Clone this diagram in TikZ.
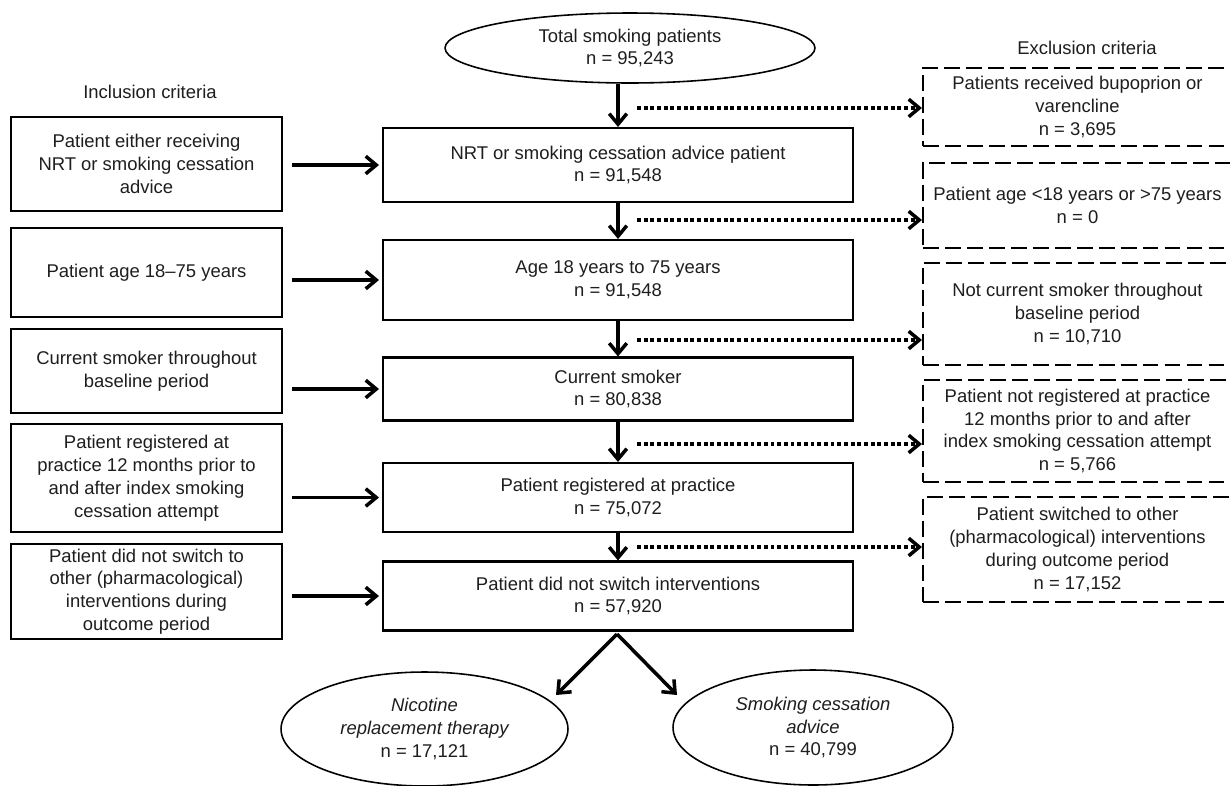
\documentclass[tikz,border=0pt]{standalone}
\usepackage{fontspec}
\setmainfont{Liberation Sans}
\usetikzlibrary{arrows.meta,shapes.geometric}
\definecolor{txt}{HTML}{1E1E1E}
\tikzset{
  every node/.style={font=\fontsize{10.5}{13}\selectfont, text=txt},
  mainbox/.style={draw=black, line width=1.2pt, minimum width=9.4cm, inner sep=0pt, align=center},
  inbox/.style={draw=black, line width=1.2pt, minimum width=5.42cm, inner sep=0pt, align=center},
  exbox/.style={draw=black, line width=1.2pt, dash pattern=on 9pt off 3.5pt, minimum width=6.18cm, inner sep=0pt, align=center},
  oval/.style={ellipse, draw=black, line width=0.9pt, inner sep=0pt, align=center},
  arr/.style={draw=black, line width=2pt, -{Straight Barb[length=6pt,width=10pt,line width=2pt]}},
  dotarr/.style={draw=black, line width=2.2pt, dash pattern=on 2.2pt off 1.6pt, -{Straight Barb[length=6pt,width=10pt,line width=2pt]}},
  lbl/.style={inner sep=0pt}
}
\begin{document}
\begin{tikzpicture}[x=0.02cm, y=-0.02cm]
\clip (0,0) rectangle (1230,785);
\fill[white] (0,0) rectangle (1230,785);

% labels
\node[lbl] (inlbl) at (150,92) {Inclusion criteria};
\node[lbl] (exlbl) at (1087,48) {Exclusion criteria};

% top ellipse
\node[oval, minimum width=7.4cm, minimum height=1.4cm] (top) at (630,48) {Total smoking patients\\n = 95,243};

% main column
\node[mainbox, minimum height=1.48cm] (b1) at (618,165) {NRT or smoking cessation advice patient\\n = 91,548};
\node[mainbox, minimum height=1.6cm] (b2) at (618,280) {Age 18 years to 75 years\\n = 91,548};
\node[mainbox, minimum height=1.26cm] (b3) at (618,389) {Current smoker\\n = 80,838};
\node[mainbox, minimum height=1.38cm] (b4) at (618,497.5) {Patient registered at practice\\n = 75,072};
\node[mainbox, minimum height=1.38cm] (b5) at (618,596) {Patient did not switch interventions\\n = 57,920};

% inclusion column
\node[inbox, minimum height=1.88cm] (l1) at (146.5,164) {Patient either receiving\\NRT or smoking cessation\\advice};
\node[inbox, minimum height=1.78cm] (l2) at (146.5,272.5) {Patient age 18--75 years};
\node[inbox, minimum height=1.68cm] (l3) at (146.5,371) {Current smoker throughout\\baseline period};
\node[inbox, minimum height=2.16cm] (l4) at (146.5,478) {Patient registered at\\practice 12 months prior to\\and after index smoking\\cessation attempt};
\node[inbox, minimum height=1.9cm] (l5) at (146.5,591.5) {Patient did not switch to\\other (pharmacological)\\interventions during\\outcome period};

% exclusion column
\node[exbox, minimum height=1.56cm] (e1) at (1077.5,107) {Patients received bupoprion or\\varencline\\n = 3,695};
\node[exbox, minimum height=1.7cm] (e2) at (1077.5,205.5) {Patient age <18 years or >75 years\\n = 0};
\node[exbox, minimum height=2.04cm] (e3) at (1077.5,314) {Not current smoker throughout\\baseline period\\n = 10,710};
\node[exbox, minimum height=2.04cm] (e4) at (1077.5,431) {Patient not registered at practice\\12 months prior to and after\\index smoking cessation attempt\\n = 5,766};
\node[exbox, minimum height=2.1cm] (e5) at (1077.5,549.5) {Patient switched to other\\(pharmacological) interventions\\during outcome period\\n = 17,152};

% outcome ellipses
\node[oval, minimum width=5.74cm, minimum height=2.28cm] (nrt) at (424.5,729) {\itshape Nicotine\\\itshape replacement therapy\\n = 17,121};
\node[oval, minimum width=5.6cm, minimum height=2.3cm] (sca) at (813,727.5) {\itshape Smoking cessation\\\itshape advice\\n = 40,799};

% vertical arrows
\draw[arr] (b1.north |- top.south) -- (b1.north);
\draw[arr] (b1.south) -- (b2.north);
\draw[arr] (b2.south) -- (b3.north);
\draw[arr] (b3.south) -- (b4.north);
\draw[arr] (b4.south) -- (b5.north);

% inclusion arrows
\foreach \i in {1,...,5}{
  \draw[arr, shorten <=0.18cm, shorten >=0.06cm] (l\i.east |- b\i.west) -- (b\i.west);
}

% exclusion dotted arrows
\coordinate (d1) at (637,108);
\coordinate (d2) at (637,220);
\coordinate (d3) at (637,340);
\coordinate (d4) at (637,444);
\coordinate (d5) at (637,547);
\foreach \i in {1,...,5}{
  \draw[dotarr] (d\i) -- (d\i -| e\i.west);
}

% branch arrows
\coordinate (apex) at (617,634);
\coordinate (t1) at (556,695);
\coordinate (t2) at (677,695);
\draw[arr] (apex) -- (t1);
\draw[arr] (apex) -- (t2);
\end{tikzpicture}
\end{document}
